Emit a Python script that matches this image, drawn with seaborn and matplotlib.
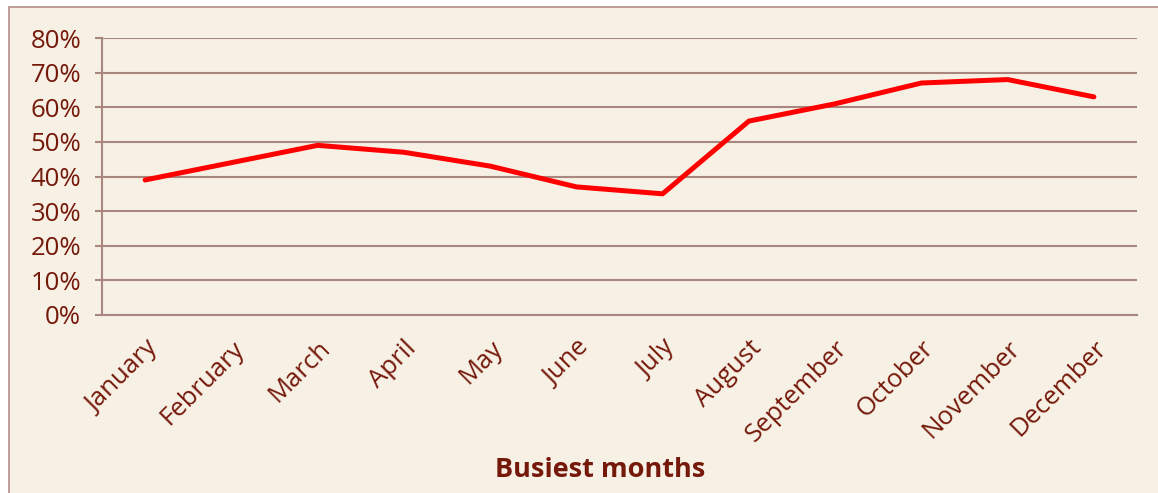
import seaborn as sns
import matplotlib.pyplot as plt
from matplotlib.patches import Rectangle
from matplotlib.ticker import PercentFormatter
import pandas as pd

# data
months = ["January", "February", "March", "April", "May", "June",
          "July", "August", "September", "October", "November", "December"]
share = [39, 44, 49, 47, 43, 37, 35, 56, 61, 67, 68, 63]

df = pd.DataFrame({"Month": months, "Share": share})

sns.set_theme(style="white")
plt.rcParams['font.family'] = ['Open Sans', 'DejaVu Sans']

txt = "#75190B"
grid = "#A9877F"
bg = "#F7F0E5"

fig = plt.figure(figsize=(11.58, 4.93), dpi=100, facecolor="white")
# cream panel with thin border
fig.patches.append(Rectangle((9 / 1158, -0.01), 1.0, 1 - 7 / 493 + 0.01,
                             transform=fig.transFigure, facecolor=bg,
                             edgecolor="#B58E88", linewidth=1.2, zorder=-1))

ax = fig.add_axes([102 / 1158, 1 - 315 / 493, (1137 - 102) / 1158, (315 - 38) / 493])
ax.set_facecolor(bg)

sns.lineplot(data=df, x="Month", y="Share", sort=False, color="#FF0000",
             linewidth=3.6, ax=ax, zorder=3)

ax.set_ylim(0, 80)
ax.set_xlim(-0.5, 11.5)
ax.set_yticks(range(0, 81, 10))
ax.yaxis.set_major_formatter(PercentFormatter(decimals=0))
ax.yaxis.grid(True, color=grid, linewidth=1.5)
ax.set_axisbelow(True)

for s in ["top", "right"]:
    ax.spines[s].set_visible(False)
for s in ["left", "bottom"]:
    ax.spines[s].set_color(grid)
    ax.spines[s].set_linewidth(1.5)

ax.tick_params(axis="y", left=True, length=5, width=1.5, color=grid,
               labelsize=18.5, labelcolor=txt, pad=10)
ax.tick_params(axis="x", bottom=False, labelsize=18.5, labelcolor=txt, pad=9)
plt.setp(ax.get_xticklabels(), rotation=45, ha="right", rotation_mode="anchor")

ax.set_ylabel("")
ax.set_xlabel("Busiest months", fontsize=19.5, fontweight="bold", color=txt)
ax.xaxis.set_label_coords((600 - 102) / (1137 - 102), -(470 - 315) / (315 - 38))
ax.xaxis.label.set_va("center")

fig.savefig("out.png", dpi=100, facecolor=fig.get_facecolor())
